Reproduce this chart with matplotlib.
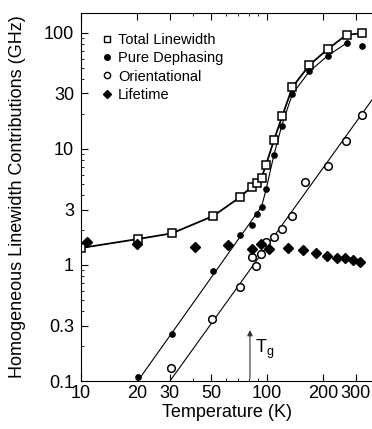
import numpy as np
import matplotlib.pyplot as plt
from matplotlib.ticker import FixedLocator, NullFormatter
from matplotlib.lines import Line2D

plt.rcParams['font.family'] = ['Liberation Sans', 'DejaVu Sans']
plt.rcParams['mathtext.fontset'] = 'custom'
plt.rcParams['mathtext.rm'] = 'Liberation Sans'
plt.rcParams['mathtext.it'] = 'Liberation Sans'

## data
T_total = [10, 20.2, 30.8, 51.4, 71.6, 82.8, 88, 93.5, 98.9, 109, 121, 137, 169, 212, 268, 323]
v_total = [1.40, 1.67, 1.87, 2.64, 3.83, 4.73, 5.06, 5.66, 7.29, 11.9, 19.3, 34.0, 52.6, 72.3, 96, 99]

T_deph = [20.2, 30.8, 51, 71.6, 83, 88, 93.5, 99, 109, 120, 137, 169, 212, 268, 323]
v_deph = [0.108, 0.254, 0.893, 1.81, 2.21, 2.74, 3.18, 4.49, 8.88, 15.8, 29.8, 46.4, 63.4, 81.5, 76.2]

T_orient = [30.5, 50.8, 71.6, 83, 87, 92.5, 99, 109, 120, 137, 161, 212, 265, 323]
v_orient = [0.129, 0.34, 0.643, 1.16, 0.98, 1.24, 1.58, 1.73, 2.03, 2.64, 5.22, 7.18, 11.6, 19.4]

T_life = [10.8, 20, 41, 62, 83, 93, 103, 130, 156, 183, 209, 238, 264, 290, 318]
v_life = [1.57, 1.51, 1.44, 1.47, 1.37, 1.51, 1.37, 1.41, 1.35, 1.26, 1.20, 1.156, 1.15, 1.10, 1.07]

# power law fit lines (end points)
fit_deph_T = [20.2, 93.5]
fit_deph_v = [0.1, 3.18]
fit_orient_T = [30.1, 367]
fit_orient_v = [0.1, 26.4]

Tg = 81

xticks = [10, 20, 30, 50, 100, 200, 300]
yticks = [0.1, 0.3, 1, 3, 10, 30, 100]
ytick_labels = ['0.1', '0.3', '1', '3', '10', '30', '100']

fig = plt.figure(figsize=(3.72, 4.29), dpi=100)
ax = fig.add_axes([81/372, 1-381/429, 1-81/372, (381-13)/429])
ax.set_xscale('log')
ax.set_yscale('log')

# lines
ax.plot(fit_deph_T, fit_deph_v, 'k-', lw=0.8)
ax.plot(T_deph[6:14], v_deph[6:14], 'k-', lw=0.8)
ax.plot(fit_orient_T, fit_orient_v, 'k-', lw=0.8)
ax.plot(T_total, v_total, 'k-', lw=1.3)

# markers
ax.plot(T_total, v_total, 's', ms=5.5, mfc='white', mec='black', mew=1.1, ls='none')
ax.plot(T_deph, v_deph, 'o', ms=3.8, color='black', ls='none')
ax.plot(T_orient, v_orient, 'o', ms=5.5, mfc='white', mec='black', mew=1.1, ls='none')
ax.plot(T_life, v_life, 'D', ms=5, color='black', ls='none')

# Tg arrow
ax.annotate('', xy=(Tg, 0.29), xytext=(Tg, 0.1),
            arrowprops=dict(arrowstyle='-|>', color='#333333', lw=0.8, mutation_scale=8))
ax.text(Tg*1.07, 0.175, r'T$_\mathregular{g}$', fontsize=13, va='baseline', ha='left')

ax.set_xlim(10, 367)
ax.set_ylim(0.1, 148)

ax.xaxis.set_major_locator(FixedLocator(xticks))
ax.set_xticklabels([str(t) for t in xticks])
ax.xaxis.set_minor_locator(FixedLocator([40, 60, 70, 80, 90, 400]))
ax.xaxis.set_minor_formatter(NullFormatter())
ax.yaxis.set_major_locator(FixedLocator(yticks))
ax.set_yticklabels(ytick_labels)
yminor = []
for dec in [0.1, 1, 10, 100]:
    for m in [2, 4, 5, 6, 7, 8, 9]:
        if dec*m < 148:
            yminor.append(dec*m)
ax.yaxis.set_minor_locator(FixedLocator(yminor))
ax.yaxis.set_minor_formatter(NullFormatter())

ax.tick_params(which='both', direction='in', labelsize=13, top=True)
ax.tick_params(axis='x', pad=3)
ax.tick_params(axis='y', pad=5)
ax.tick_params(which='major', length=5, width=0.8)
ax.tick_params(which='minor', length=2.5, width=0.6)
ax.spines['right'].set_visible(False)
for s in ['left', 'bottom', 'top']:
    ax.spines[s].set_linewidth(0.8)

ax.set_xlabel('Temperature (K)', fontsize=13, labelpad=1)
ax.set_ylabel('Homogeneous Linewidth Contributions (GHz)', fontsize=13)
ax.yaxis.set_label_coords(-0.19, 0.5)

handles = [
    Line2D([], [], marker='s', ms=4.5, mfc='white', mec='black', mew=1, ls='none'),
    Line2D([], [], marker='o', ms=4, color='black', ls='none'),
    Line2D([], [], marker='o', ms=4.5, mfc='white', mec='black', mew=1, ls='none'),
    Line2D([], [], marker='D', ms=4.5, color='black', ls='none'),
]
labels = ['Total Linewidth', 'Pure Dephasing', 'Orientational', 'Lifetime']
ax.legend(handles, labels, loc='upper left', frameon=False, fontsize=10.5,
          handlelength=0.8, handletextpad=0.35, labelspacing=0.3,
          borderaxespad=0.4, bbox_to_anchor=(0.03, 0.978))

fig.savefig('out.png', dpi=100)
